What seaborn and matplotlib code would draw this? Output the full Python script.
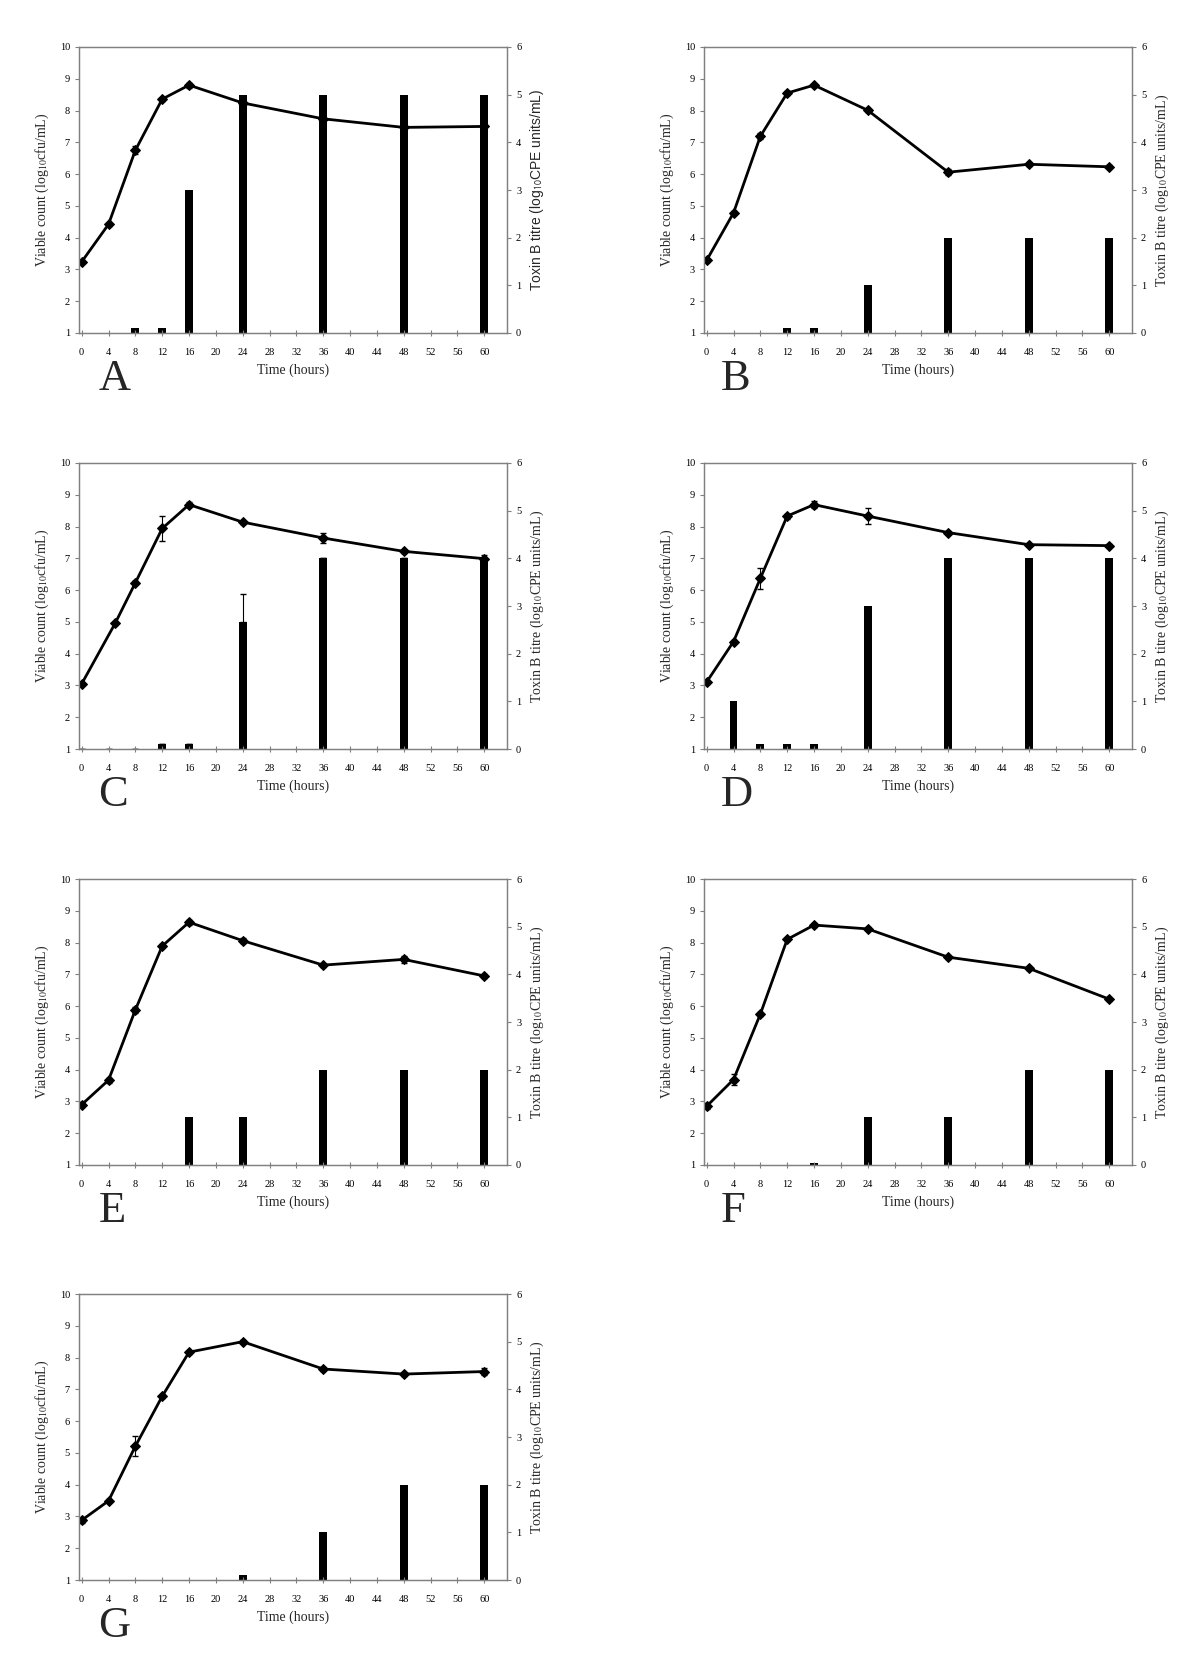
import numpy as np
import pandas as pd
import matplotlib
matplotlib.use("Agg")
import matplotlib.pyplot as plt
import seaborn as sns

sns.set_theme(style="ticks")
plt.rcParams["font.family"] = ["Liberation Serif", "DejaVu Serif"]
plt.rcParams["mathtext.fontset"] = "stix"

# sampling times (hours)
hours = [0, 4, 8, 12, 16, 24, 36, 48, 60]
hours_C = [0, 5, 8, 12, 16, 24, 36, 48, 60]

# viable counts (log10 cfu/mL), error bars, toxin B titre (log10 CPE units/mL)
count_A = [3.24, 4.42, 6.75, 8.36, 8.80, 8.24, 7.74, 7.47, 7.50]
err_A = [0.05, 0.05, 0.12, 0.05, 0.08, 0.03, 0.03, 0.03, 0.03]
toxin_A = [0, 0, 0.1, 0.1, 3, 5, 5, 5, 5]

count_B = [3.29, 4.78, 7.19, 8.55, 8.80, 8.01, 6.06, 6.31, 6.23]
err_B = [0.05, 0.05, 0.10, 0.05, 0.05, 0.05, 0.10, 0.05, 0.05]
toxin_B = [0, 0, 0, 0.1, 0.1, 1, 2, 2, 2]

count_C = [3.05, 4.96, 6.23, 7.94, 8.69, 8.14, 7.64, 7.22, 6.99]
err_C = [0.05, 0.05, 0.05, 0.40, 0.08, 0.05, 0.15, 0.05, 0.10]
toxin_C = [0, 0, 0, 0.1, 0.1, 2.67, 4, 4, 4]
toxin_err_C = [0, 0, 0, 0, 0, 0.58, 0, 0, 0]

count_D = [3.11, 4.38, 6.37, 8.33, 8.69, 8.33, 7.81, 7.43, 7.40]
err_D = [0.05, 0.05, 0.33, 0.08, 0.12, 0.25, 0.05, 0.05, 0.05]
toxin_D = [0, 1, 0.1, 0.1, 0.1, 3, 4, 4, 4]

count_E = [2.90, 3.67, 5.88, 7.89, 8.64, 8.06, 7.29, 7.47, 6.95]
err_E = [0.08, 0.08, 0.10, 0.05, 0.08, 0.08, 0.05, 0.12, 0.05]
toxin_E = [0, 0, 0, 0, 1, 1, 2, 2, 2]

count_F = [2.85, 3.69, 5.75, 8.10, 8.55, 8.43, 7.54, 7.19, 6.22]
err_F = [0.10, 0.17, 0.05, 0.05, 0.05, 0.05, 0.05, 0.05, 0.05]
toxin_F = [0, 0, 0, 0, 0.05, 1, 1, 2, 2]

count_G = [2.88, 3.49, 5.21, 6.78, 8.17, 8.50, 7.64, 7.48, 7.56]
err_G = [0.08, 0.05, 0.31, 0.05, 0.05, 0.05, 0.05, 0.05, 0.10]
toxin_G = [0, 0, 0, 0, 0, 0.1, 1, 2, 2]

panels = ["A", "B", "C", "D", "E", "F", "G"]
counts = [count_A, count_B, count_C, count_D, count_E, count_F, count_G]
errs = [err_A, err_B, err_C, err_D, err_E, err_F, err_G]
toxins = [toxin_A, toxin_B, toxin_C, toxin_D, toxin_E, toxin_F, toxin_G]
xtick_hours = list(range(0, 61, 4))

W, H = 1200, 1676
fig = plt.figure(figsize=(W / 100, H / 100), dpi=100)

col_left = [79, 704]
row_bottom = [333, 749, 1165, 1580]
ax_w, ax_h = 428, 286

spine_grey = "#808080"

for i, name in enumerate(panels):
    r, c = divmod(i, 2)
    x0 = col_left[c]
    yb = row_bottom[r]
    ax = fig.add_axes([x0 / W, 1 - yb / H, ax_w / W, ax_h / H])
    ax2 = ax.twinx()

    t_line = hours_C if name == "C" else hours
    df_line = pd.DataFrame({"hours": t_line, "count": counts[i], "err": errs[i]})
    df_bar = pd.DataFrame({"hours": hours, "toxin": toxins[i]})

    # toxin bars on the right axis
    sns.barplot(data=df_bar, x="hours", y="toxin", native_scale=True,
                width=1.15 / 4, color="black", errorbar=None, ax=ax2,
                saturation=1, edgecolor="black", linewidth=0)
    if name == "C":
        ax2.errorbar(hours, toxin_C, yerr=[np.zeros(9), toxin_err_C],
                     fmt="none", ecolor="black", elinewidth=0.8, capsize=2.5)

    # viable count line on the left axis, drawn above the bars
    ax.set_zorder(ax2.get_zorder() + 1)
    ax.patch.set_visible(False)
    ax.errorbar(df_line["hours"], df_line["count"], yerr=df_line["err"],
                fmt="none", ecolor="black", elinewidth=0.8, capsize=2.5)
    sns.lineplot(data=df_line, x="hours", y="count", color="black",
                 marker="D", markersize=5, markeredgecolor="black",
                 linewidth=2, ax=ax)

    ax.set_xlim(-0.4, 63.4)
    ax.set_ylim(1, 10)
    ax2.set_ylim(0, 6)
    ax.set_xticks(xtick_hours)
    ax.set_yticks(range(1, 11))
    ax2.set_yticks(range(0, 7))

    ax.set_xlabel("Time (hours)", fontsize=10, labelpad=5)
    ax.set_ylabel(r"Viable count (log$_{10}$cfu/mL)", fontsize=10, labelpad=6)
    if name == "A":
        ax2.set_ylabel(r"Toxin B titre (log$_{\mathsf{10}}$CPE units/mL)",
                       fontsize=10, labelpad=5, family="Liberation Sans")
    else:
        ax2.set_ylabel(r"Toxin B titre (log$_{10}$CPE units/mL)",
                       fontsize=10, labelpad=5)

    for a in (ax, ax2):
        for s in a.spines.values():
            s.set_color(spine_grey)
            s.set_linewidth(0.9)
            s.set_visible(True)
        a.tick_params(axis="both", labelsize=7.5, colors="black",
                      color=spine_grey, length=3, width=0.8)
    ax.tick_params(axis="x", direction="inout", length=5, pad=8)
    ax2.tick_params(axis="x", which="both", bottom=False, top=False)

    ax.text(0.045 if c == 0 else 0.04, -0.2, name, transform=ax.transAxes,
            fontsize=32, va="baseline", ha="left")

fig.savefig("out.png", dpi=100, facecolor="white")
